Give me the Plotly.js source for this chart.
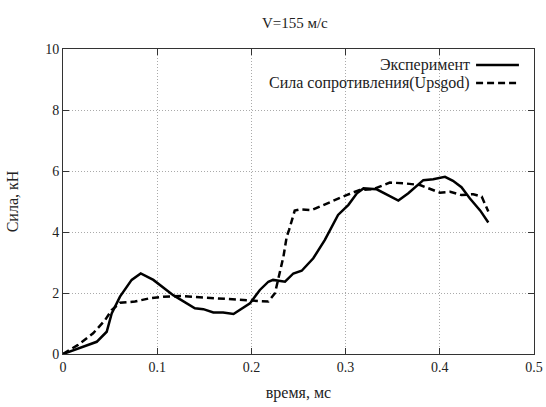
<!DOCTYPE html>
<html>
<head>
<meta charset="utf-8">
<script src="https://cdn.plot.ly/plotly-3.0.1.min.js"></script>
<style>html,body{margin:0;padding:0;background:#fff}#chart{width:546px;height:407px}</style>
</head>
<body>
<div id="chart"></div>
<script>
// Experiment (solid)
const timeExp = [0, 0.018, 0.0358, 0.0464, 0.0517, 0.0605, 0.0729, 0.0825, 0.0959, 0.117, 0.140, 0.149, 0.1596, 0.170, 0.181, 0.1985, 0.209, 0.218, 0.223, 0.2357, 0.2445, 0.2534, 0.2657, 0.278, 0.292, 0.303, 0.312, 0.319, 0.333, 0.356, 0.3666, 0.3825, 0.393, 0.4055, 0.414, 0.423, 0.432, 0.443, 0.4515];
const forceExp = [0, 0.2, 0.40, 0.73, 1.33, 1.88, 2.43, 2.64, 2.43, 1.93, 1.50, 1.47, 1.36, 1.36, 1.31, 1.66, 2.10, 2.37, 2.43, 2.37, 2.64, 2.73, 3.14, 3.74, 4.56, 4.89, 5.27, 5.43, 5.40, 5.03, 5.27, 5.70, 5.73, 5.81, 5.68, 5.47, 5.10, 4.70, 4.31];
// Drag force (Upsgod), dashed
const timeUps = [0, 0.016, 0.032, 0.0446, 0.0517, 0.0605, 0.0764, 0.0924, 0.1065, 0.1277, 0.145, 0.170, 0.1985, 0.218, 0.225, 0.234, 0.2375, 0.240, 0.246, 0.2516, 0.264, 0.280, 0.301, 0.315, 0.329, 0.347, 0.361, 0.379, 0.393, 0.400, 0.411, 0.423, 0.4356, 0.4445, 0.4515];
const forceUps = [0, 0.3, 0.68, 1.11, 1.44, 1.68, 1.72, 1.83, 1.88, 1.90, 1.86, 1.81, 1.74, 1.72, 1.99, 3.19, 3.85, 4.07, 4.70, 4.74, 4.72, 4.94, 5.21, 5.38, 5.40, 5.62, 5.60, 5.54, 5.38, 5.29, 5.32, 5.21, 5.24, 5.16, 4.67];

const seriesNames = ['Эксперимент', 'Сила сопротивления(Upsgod)'];
const xTicks = [0, 0.1, 0.2, 0.3, 0.4, 0.5];
const xTickText = ['0', '0.1', '0.2', '0.3', '0.4', '0.5'];
const yTicks = [0, 2, 4, 6, 8, 10];

const FONT = 'Liberation Serif';
const DASH = '7px,4px';
const TICK = {family: FONT, size: 14, color: '#222'};
const LBL = {family: FONT, size: 16, color: '#222'};

const traces = [
  {x: timeExp, y: forceExp, name: seriesNames[0], mode: 'lines',
   line: {color: '#000', width: 2.5}},
  {x: timeUps, y: forceUps, name: seriesNames[1], mode: 'lines',
   line: {color: '#000', width: 2.5, dash: DASH}}
];

const axisCommon = {
  showline: true, mirror: 'ticks', linecolor: '#333', linewidth: 1,
  ticks: 'inside', ticklen: 6, tickcolor: '#333', tickwidth: 1,
  showgrid: true, gridcolor: '#aaaaaa', griddash: '1px,2px', gridwidth: 1,
  zeroline: false, tickfont: TICK
};

const layout = {
  width: 546, height: 407,
  margin: {l: 63, r: 12, t: 49, b: 53},
  paper_bgcolor: '#fff', plot_bgcolor: '#fff',
  showlegend: false,
  font: TICK,
  title: {text: 'V=155 м/с', font: {family: FONT, size: 15, color: '#222'},
          x: 0.54, xanchor: 'center', y: 0.945, yanchor: 'middle'},
  xaxis: Object.assign({}, axisCommon, {
    range: [0, 0.5], tickvals: xTicks, ticktext: xTickText,
    title: {text: 'время, мс', font: LBL, standoff: 13}
  }),
  yaxis: Object.assign({}, axisCommon, {
    range: [0, 10], tickvals: yTicks,
    title: {text: 'Сила, кН', font: LBL, standoff: 22}
  }),
  annotations: [
    {xref: 'paper', yref: 'paper', x: 0.868, y: 0.9475, xanchor: 'right', yanchor: 'middle',
     text: seriesNames[0], showarrow: false, font: LBL},
    {xref: 'paper', yref: 'paper', x: 0.868, y: 0.8885, xanchor: 'right', yanchor: 'middle',
     text: seriesNames[1], showarrow: false, font: LBL}
  ],
  shapes: [
    {type: 'line', xref: 'paper', yref: 'paper', x0: 0.877, x1: 0.968, y0: 0.9475, y1: 0.9475,
     line: {color: '#000', width: 2.5}},
    {type: 'line', xref: 'paper', yref: 'paper', x0: 0.877, x1: 0.968, y0: 0.8885, y1: 0.8885,
     line: {color: '#000', width: 2.5, dash: DASH}}
  ]
};

Plotly.newPlot('chart', traces, layout, {displayModeBar: false, staticPlot: true});
</script>
</body>
</html>
